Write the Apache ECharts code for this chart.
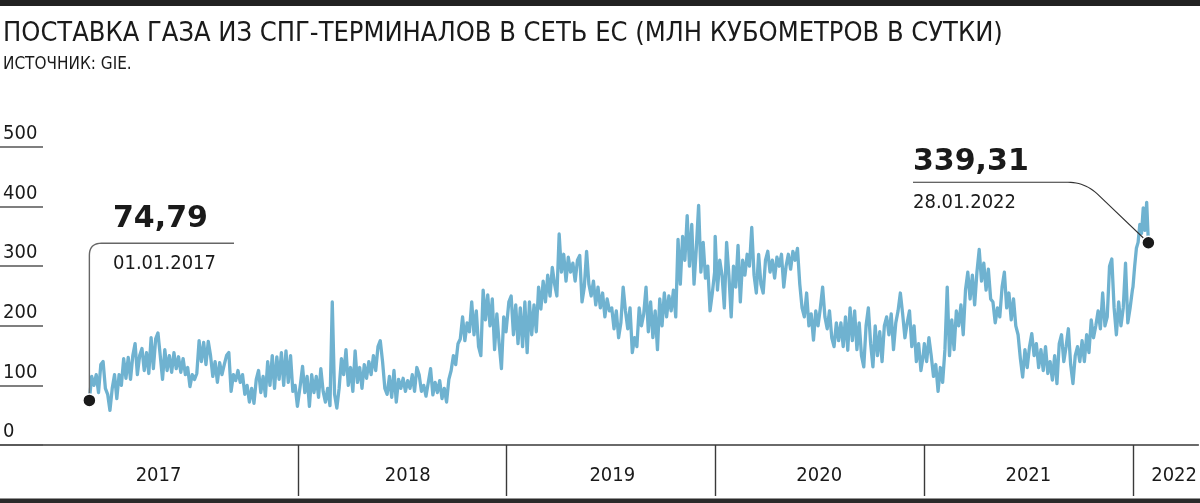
<!DOCTYPE html>
<html><head><meta charset="utf-8">
<script src="https://cdn.jsdelivr.net/npm/echarts@6/dist/echarts.min.js"></script>
<style>html,body{margin:0;padding:0;background:#fff}#c{width:1200px;height:503px}</style>
</head><body><div id="c"></div>
<script>
// ---- data ----
const title = 'ПОСТАВКА ГАЗА ИЗ СПГ-ТЕРМИНАЛОВ В СЕТЬ ЕС (МЛН КУБОМЕТРОВ В СУТКИ)';
const source = 'ИСТОЧНИК: GIE.';
// values every 4 days from 1 January of each year
const v2017 = [74.79,115,100,118,88,135,140,95,85,58,
  95,118,78,118,100,145,112,147,110,150,
  170,118,150,162,125,155,120,180,128,178,
  188,150,110,160,125,150,122,155,128,148,
  122,145,118,130,98,118,110,120,175,140,
  172,135,174,150,115,140,105,138,118,135,
  150,155,90,118,108,125,105,118,85,100,
  72,95,70,110,125,88,115,82,140,100,
  150,95,148,110,155,100,158,105,150,90,
  100,65];
const v2018 = [68,100,132,88,115,65,118,88,115,80,
  128,90,72,95,66,240,85,62,95,145,
  118,160,100,130,90,158,105,130,95,135,
  112,140,118,150,125,165,175,140,95,85,
  115,80,125,72,110,95,112,90,108,95,
  118,90,130,118,90,100,82,105,128,84,
  105,88,108,78,95,72,110,125,150,135,
  170,178,215,175,205,190,240,185,225,165,
  150,260,210,252,200,245,160,220,170,128,
  215,190];
const v2019 = [200,240,250,185,235,170,230,165,240,155,
  240,185,235,190,265,228,275,240,285,250,
  298,270,250,354,290,320,275,315,290,305,
  275,310,318,240,265,325,270,250,275,235,
  265,230,255,215,245,225,230,195,225,180,
  205,265,225,195,230,155,180,165,230,200,
  220,265,190,240,180,225,160,245,200,255,
  215,250,225,260,215,345,270,350,310,385,
  300,370,270,330,402,290,340,280,300,225,
  255,290];
const v2020 = [350,260,310,285,230,340,285,215,300,265,
  335,240,310,285,320,300,365,285,255,320,
  270,255,310,325,290,310,280,315,300,320,
  265,300,320,295,325,310,330,270,230,215,
  255,200,220,176,225,200,230,265,215,195,
  225,180,165,205,175,205,165,215,159,230,
  175,225,160,205,150,131,200,230,170,131,
  200,150,190,140,200,215,185,220,160,205,
  225,255,220,180,205,225,165,200,140,170,
  125,150];
const v2021 = [170,140,180,150,115,135,90,130,105,160,
  265,150,210,160,225,200,235,185,260,290,
  245,285,235,290,328,275,305,260,295,245,
  240,205,230,215,265,290,230,255,210,245,
  200,185,145,114,160,130,165,187,150,170,
  130,160,125,165,120,140,109,150,103,170,
  185,140,165,195,135,103,150,165,140,175,
  140,185,155,210,180,200,225,195,255,200,
  215,300,312,230,185,240,200,230,305,205,
  230,260];
// values every 3 days from 1 January 2022 (last = 28.01.2022)
const v2022 = [265,300,330,340,370,355,398,360,407,339.31];

const yearTickDates = ['2018-01-01','2019-01-01','2020-01-01','2021-01-01','2022-01-01'];
const yearLabelDates = ['2017-05-02','2018-07-12','2019-07-05','2020-07-01','2021-07-02','2022-03-14'];
const yTickValues = [0,100,200,300,400,500];
const firstLabel = {value: '74,79', date: '01.01.2017'};
const lastLabel = {value: '339,31', date: '28.01.2022'};

// ---- build ----
const DAY = 86400000;
const ts = s => Date.parse(s + 'T00:00:00Z');
function fromYear(start, step, vals) { const t0 = ts(start); return vals.map((v, i) => [t0 + i * step * DAY, v]); }
const lineData = [].concat(
  fromYear('2017-01-01', 4, v2017), fromYear('2018-01-01', 4, v2018), fromYear('2019-01-01', 4, v2019),
  fromYear('2020-01-01', 4, v2020), fromYear('2021-01-01', 4, v2021), fromYear('2022-01-01', 3, v2022));
const firstPt = lineData[0];
const lastPt = lineData[lineData.length - 1];

// layout: 1 Jan 2017 sits at x=89.5, one year is ~209 px
const PX_PER_DAY = 0.5723, X0 = 89.5, W = 1200;
const xMin = ts('2017-01-01') - X0 / PX_PER_DAY * DAY;
const xMax = xMin + W / PX_PER_DAY * DAY;

const NARROW = "'Liberation Sans Narrow','DejaVu Sans Condensed','Roboto Condensed',sans-serif";
const INK = '#1a1a1a';

const chart = echarts.init(document.getElementById('c'), null, {renderer: 'canvas'});
chart.setOption({
  animation: false,
  backgroundColor: '#fff',
  grid: {left: 0, right: 0, top: 147, bottom: 58, containLabel: false},
  xAxis: {
    type: 'value', min: xMin, max: xMax, scale: true,
    axisLine: {show: true, lineStyle: {color: '#3a3a3a', width: 1.6}},
    axisTick: {show: true, length: 51, customValues: yearTickDates.map(ts), lineStyle: {color: '#3a3a3a', width: 1.4}},
    axisLabel: {
      customValues: yearLabelDates.map(ts), margin: 31, verticalAlign: 'middle',
      fontFamily: NARROW, fontSize: 20, color: INK,
      formatter: v => String(new Date(v).getUTCFullYear())
    },
    splitLine: {show: false}
  },
  yAxis: {
    type: 'value', min: 0, max: 500, interval: 100,
    axisLine: {show: false},
    axisTick: {show: true, inside: true, length: 43, customValues: yTickValues, lineStyle: {color: '#555', width: 1.5}},
    axisLabel: {inside: true, margin: 3, align: 'left', verticalAlign: 'bottom', padding: [0, 0, 3, 0],
      fontFamily: NARROW, fontSize: 20, color: INK, customValues: yTickValues},
    splitLine: {show: false}
  },
  series: [
    {type: 'line', data: lineData, showSymbol: false, z: 2,
      lineStyle: {color: '#6fb2d0', width: 3.3, join: 'round'}},
    {type: 'scatter', data: [firstPt, lastPt], symbolSize: 13, z: 5,
      itemStyle: {color: INK, borderColor: '#fff', borderWidth: 1.5, opacity: 1}}
  ]
});

// callout geometry (quadratic corners sampled into polylines)
function quad(a, c, b, n) {
  const out = [];
  for (let i = 0; i <= n; i++) {
    const t = i / n, u = 1 - t;
    out.push([u * u * a[0] + 2 * u * t * c[0] + t * t * b[0], u * u * a[1] + 2 * u * t * c[1] + t * t * b[1]]);
  }
  return out;
}
const p1 = chart.convertToPixel({gridIndex: 0}, firstPt);
const p2 = chart.convertToPixel({gridIndex: 0}, lastPt);
const y1 = 243.3, r1 = 12, y2 = 182.3;
const call1 = [[p1[0], p1[1]]].concat(quad([p1[0], y1 + r1], [p1[0], y1], [p1[0] + r1, y1], 10), [[234, y1]]);
const call2 = [[913, y2]].concat(quad([1068, y2], [1084.8, y2], [1097, 193.7], 12), [[p2[0], p2[1]]]);

chart.setOption({
  graphic: [
    {type: 'rect', shape: {x: 0, y: 0, width: W, height: 6}, style: {fill: '#222'}},
    {type: 'rect', shape: {x: 0, y: 498.5, width: W, height: 4.5}, style: {fill: '#2a2a2a'}},
    {type: 'text', x: 3, y: 34, style: {text: title, font: '27px ' + NARROW, fill: INK, verticalAlign: 'middle'}},
    {type: 'text', x: 3, y: 65, style: {text: source, font: '17px ' + NARROW, fill: INK, verticalAlign: 'middle'}},
    {type: 'polyline', z: 4, shape: {points: call1}, style: {stroke: '#666', lineWidth: 1.4, fill: null}},
    {type: 'text', x: 113, y: 219, style: {text: firstLabel.value, font: 'bold 30px "DejaVu Sans"', fill: INK, verticalAlign: 'middle'}},
    {type: 'text', x: 113, y: 264, style: {text: firstLabel.date, font: '20px ' + NARROW, fill: INK, verticalAlign: 'middle'}},
    {type: 'polyline', z: 4, shape: {points: call2}, style: {stroke: '#333', lineWidth: 1.1, fill: null}},
    {type: 'text', x: 913, y: 162, style: {text: lastLabel.value, font: 'bold 30px "DejaVu Sans"', fill: INK, verticalAlign: 'middle'}},
    {type: 'text', x: 913, y: 203, style: {text: lastLabel.date, font: '20px ' + NARROW, fill: INK, verticalAlign: 'middle'}}
  ]
});
</script></body></html>
